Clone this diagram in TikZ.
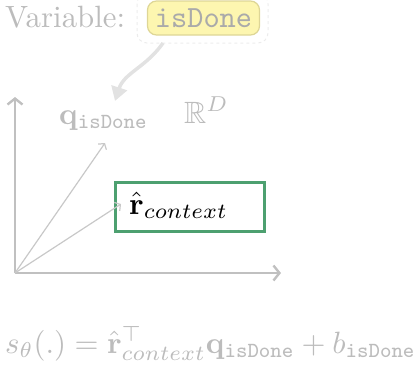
\documentclass[tikz,border=0pt]{standalone}
\usepackage{amsmath,amssymb}
\usepackage{graphicx}
\usetikzlibrary{arrows.meta}
\definecolor{txtgray}{RGB}{188,188,188}
\definecolor{ttgray}{RGB}{170,170,170}
\definecolor{axgray}{RGB}{192,192,192}
\definecolor{vecgray}{RGB}{200,200,200}
\definecolor{arrgray}{RGB}{226,226,226}
\definecolor{dashgray}{RGB}{236,236,236}
\definecolor{boxgreen}{RGB}{77,160,112}
\definecolor{yfill}{RGB}{253,246,176}
\definecolor{ydraw}{RGB}{222,214,150}
\newcommand{\tri}[1]{\scalebox{3.08}{#1}}
\tikzset{
  lbl/.style={anchor=base west, inner sep=0pt},
  axisline/.style={draw=axgray, line width=2.4pt, -{Straight Barb[length=6pt,width=15pt]}},
  vecline/.style={draw=vecgray, line width=1.2pt, -{Straight Barb[length=4pt,width=10pt]}},
}
\begin{document}
\begin{tikzpicture}[x=1pt,y=-1pt]
\useasboundingbox (0,0) rectangle (417,365);
% variable row
\node[lbl, text=txtgray] (var) at (5,27) {\tri{Variable:}};
\draw[dashgray, line width=1pt, dashed, rounded corners=10pt] (137,-6) rectangle (268,43);
\coordinate (outbot) at (163,43);
\node[draw=ydraw, fill=yfill, line width=1.2pt, rounded corners=9pt, minimum width=112pt, minimum height=34pt, inner sep=0pt] (isbox) at (203.5,18) {};
\node[anchor=base, inner sep=0pt, text=ttgray] (istxt) at (203.5,27) {\tri{\texttt{isDone}}};
% curved arrow
\coordinate (arrend) at (115,101);
\draw[arrgray, line width=3.5pt, -{Triangle[length=14pt,width=16pt]}] (outbot) to[out=-125,in=72] (arrend);
% axes
\coordinate (o) at (15,273);
\coordinate (ytip) at (15,97);
\coordinate (xtip) at (281,273);
\draw[axisline] (o) -- (ytip);
\draw[axisline] (o) -- (xtip);
% vectors
\coordinate (qtip) at (105,143);
\draw[vecline] (o) -- (qtip);
\node[lbl, text=txtgray] (qlbl) at (59,124) {\tri{$\mathbf{q}_{\texttt{isDone}}$}};
\node[lbl, text=txtgray] (rdlbl) at (184,123) {\tri{$\mathbb{R}^D$}};
% context box
\node[draw=boxgreen, line width=3pt, fill=white, minimum width=149pt, minimum height=49pt, inner sep=0pt] (rbox) at (190,207) {};
\coordinate (rtip) at (121,204);
\draw[vecline] (o) -- (rtip);
\node[lbl] (rtxt) at (129,214) {\tri{$\hat{\mathbf{r}}_{context}$}};
% formula
\node[lbl, text=txtgray] (formula) at (5,353) {\tri{$s_\theta(.) = \hat{\mathbf{r}}^\top_{context}\mathbf{q}_{\texttt{isDone}} + b_{\texttt{isDone}}$}};
\end{tikzpicture}
\end{document}
